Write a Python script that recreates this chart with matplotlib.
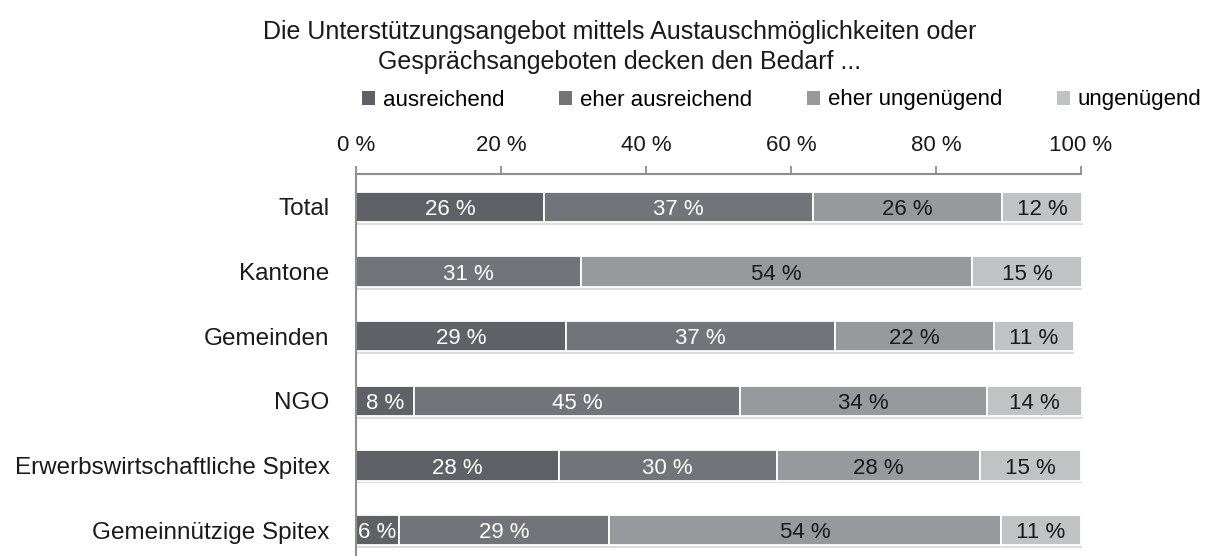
import matplotlib
matplotlib.use("Agg")
import matplotlib.pyplot as plt
import matplotlib.patheffects as pe
from matplotlib.patches import Patch
import numpy as np

plt.rcParams['font.family'] = ['Liberation Sans', 'DejaVu Sans']

categories = ["Total", "Kantone", "Gemeinden", "NGO",
              "Erwerbswirtschaftliche Spitex", "Gemeinnützige Spitex"]
series = ["ausreichend", "eher ausreichend", "eher ungenügend", "ungenügend"]

# segment widths (percent)
ausreichend = [25.9, 0.0, 29.0, 8.0, 28.0, 5.9]
eher_ausreichend = [37.1, 31.0, 37.0, 45.0, 30.0, 29.0]
eher_ungenuegend = [26.1, 54.0, 22.0, 34.0, 28.0, 54.1]
ungenuegend = [11.1, 15.1, 11.0, 13.2, 14.0, 11.0]

# printed labels
lab_ausreichend = [26, None, 29, 8, 28, 6]
lab_eher_ausreichend = [37, 31, 37, 45, 30, 29]
lab_eher_ungenuegend = [26, 54, 22, 34, 28, 54]
lab_ungenuegend = [12, 15, 11, 14, 15, 11]

title = ("Die Unterstützungsangebot mittels Austauschmöglichkeiten oder\n"
         "Gesprächsangeboten decken den Bedarf ...")

colors = ['#5f6166', '#727479', '#98999c', '#c1c2c4']
text_colors = ['white', 'white', '#1a1a1a', '#1a1a1a']
axis_gray = '#8e8e8e'

fig = plt.figure(figsize=(12.3, 5.56), dpi=100)
ax = fig.add_axes([356 / 1230, 0, 725 / 1230, 1 - 174 / 556])

y = np.arange(len(categories))
widths = [ausreichend, eher_ausreichend, eher_ungenuegend, ungenuegend]
labels = [lab_ausreichend, lab_eher_ausreichend, lab_eher_ungenuegend, lab_ungenuegend]
left = np.zeros(len(categories))
shadow = [pe.SimplePatchShadow(offset=(0.5, -2), shadow_rgbFace='#a0a0a0', alpha=0.35), pe.Normal()]

for i, (w, lab) in enumerate(zip(widths, labels)):
    w = np.array(w)
    bars = ax.barh(y, w, left=left, height=0.47, color=colors[i],
                   edgecolor='white', linewidth=1.3, clip_on=False, label=series[i])
    for b in bars:
        b.set_path_effects(shadow)
    for j in range(len(categories)):
        if lab[j] is not None and w[j] > 0:
            ax.text(left[j] + w[j] / 2, y[j], f"{lab[j]} %", ha='center', va='center_baseline',
                    color=text_colors[i], fontsize=16)
    left += w

ax.set_xlim(0, 100)
ax.set_ylim(5.40, -0.51)
ax.xaxis.tick_top()
ax.set_xticks(range(0, 101, 20))
ax.set_xticklabels([f"{v} %" for v in range(0, 101, 20)])
ax.tick_params(axis='x', direction='out', length=6, width=1.3, color=axis_gray,
               pad=7, labelsize=16, labelcolor='#1a1a1a')
ax.set_yticks(y)
ax.set_yticklabels(categories)
ax.tick_params(axis='y', length=0, pad=19, labelsize=17.5, labelcolor='#1a1a1a')
for s in ['bottom', 'right']:
    ax.spines[s].set_visible(False)
for s in ['top', 'left']:
    ax.spines[s].set_color(axis_gray)
    ax.spines[s].set_linewidth(1.5)

handles = [Patch(facecolor=c, edgecolor='none') for c in colors]
fig.legend(handles, series, loc='center left', bbox_to_anchor=(362 / 1230, 1 - 100 / 556),
           ncol=4, frameon=False, fontsize=16, handlelength=0.6, handleheight=0.6,
           handletextpad=0.35, columnspacing=2.45, borderpad=0, borderaxespad=0)

fig.text(620 / 1230, 1 - 47 / 556, title, ha='center', va='center', fontsize=18,
         linespacing=1.35, color='#1a1a1a')

fig.savefig("out.png", dpi=100)
